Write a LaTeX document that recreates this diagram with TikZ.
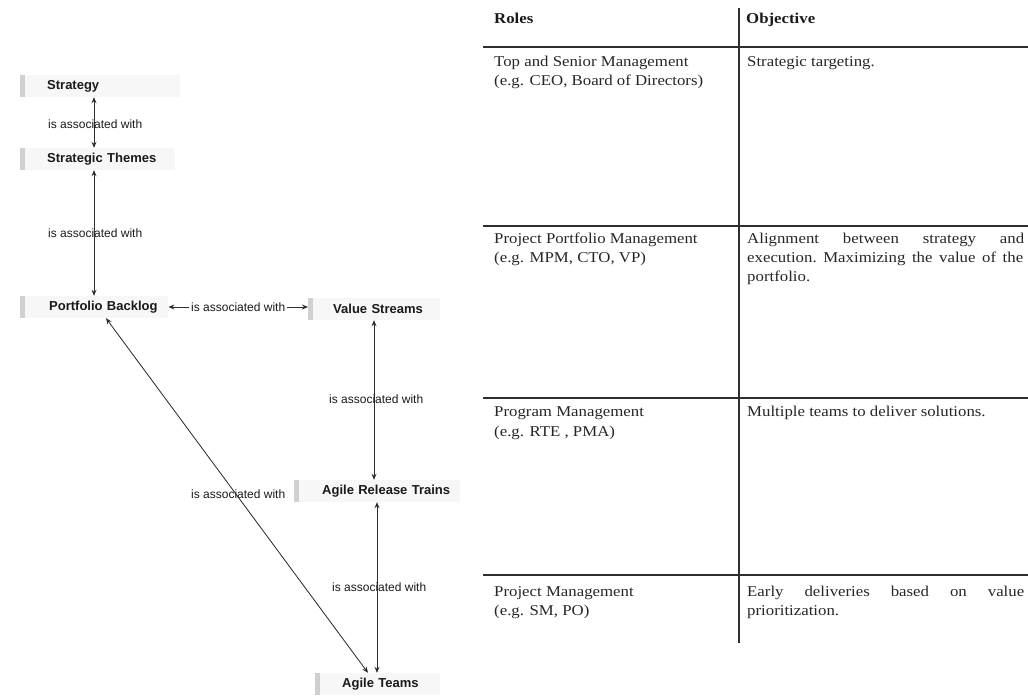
\documentclass[tikz,border=0pt]{standalone}
\usepackage{fontspec}
\setmainfont{Liberation Serif}
\newfontfamily\tabfont[FakeStretch=1.12]{Liberation Serif}
\newfontfamily\diafont{Liberation Sans}
\usetikzlibrary{arrows.meta}
\definecolor{ink}{HTML}{1A1A1A}
\definecolor{tabink}{HTML}{262626}
\definecolor{rulec}{HTML}{2E2E2E}
\definecolor{barc}{HTML}{D0D0D0}
\definecolor{boxbg}{HTML}{F7F7F7}
\begin{document}
\begin{tikzpicture}[x=1pt,y=-1pt,
  ent/.style={fill=boxbg, anchor=west, minimum height=22pt, inner xsep=0pt, inner ysep=0pt,
    text width=#1, align=left, text=ink, font=\diafont\bfseries\fontsize{13}{15}\selectfont},
  lbl/.style={text=ink, inner sep=1pt, font=\diafont\fontsize{12}{14}\selectfont},
  dbl/.style={draw=rulec, line width=0.85pt, {Stealth[length=6pt,width=5pt]}-{Stealth[length=6pt,width=5pt]}},
  tt/.style={anchor=base west, inner sep=0pt, text=tabink, font=\tabfont\fontsize{15}{18}\selectfont},
  th/.style={tt, text=ink, font=\tabfont\bfseries\fontsize{15}{18}\selectfont},
  tline/.style={draw=rulec, line width=1.1pt}]
\useasboundingbox (0,0) rectangle (1028,700);

% ---------------- left diagram ----------------
\node[ent=160pt] (strat)  at (20,86)  {\hspace*{27pt}Strategy};
\node[ent=155pt] (themes) at (20,159) {\hspace*{27pt}Strategic Themes};
\node[ent=148pt] (pb)     at (20,307) {\hspace*{29pt}Portfolio Backlog};
\node[ent=132pt] (vs)     at (308,309){\hspace*{25pt}Value Streams};
\node[ent=166pt] (art)    at (294,491){\hspace*{28pt}Agile Release Trains};
\node[ent=125pt] (at)     at (315,684){\hspace*{27pt}Agile Teams};
\foreach \n in {strat,themes,pb,vs,art,at}
  \fill[barc] (\n.south west) rectangle ([xshift=5pt]\n.north west);

\draw[dbl] ([xshift=74pt]strat.south west) -- ([xshift=74pt]themes.north west);
\draw[dbl] ([xshift=74pt]themes.south west) -- ([xshift=74pt]pb.north west);
\draw[dbl] (pb.east) -- (pb.east -| vs.west)
  node[lbl, midway, fill=white, inner xsep=2pt] (l3) {is associated with};
\draw[dbl] ([xshift=66pt]vs.south west) -- ([xshift=80pt]art.north west);
\draw[dbl] ([xshift=83pt]art.south west) -- ([xshift=62pt]at.north west);
\draw[dbl] ([xshift=86pt]pb.south west) -- ([xshift=53pt]at.north west);

\node[lbl, anchor=west] (l1) at (47,124) {is associated with};
\node[lbl, anchor=west] (l2) at (47,233) {is associated with};
\node[lbl, anchor=west] (l4) at (328,399) {is associated with};
\node[lbl, anchor=west] (l5) at (331,587) {is associated with};
\node[lbl, anchor=west] (l6) at (190,494) {is associated with};

% ---------------- table ----------------
\draw[tline] (739,8) -- (739,643);
\draw[tline] (483,47) -- (1028,47);
\draw[tline] (483,226) -- (1028,226);
\draw[tline] (483,398) -- (1028,398);
\draw[tline] (483,575) -- (1028,575);

\node[th] (hr) at (494,24) {Roles};
\node[th] (ho) at (746,24) {Objective};

\node[tt] (r1a) at (494,67) {Top and Senior Management};
\node[tt] (r1b) at (494,86) {(e.g. CEO, Board of Directors)};
\node[tt] (o1a) at (747,67) {Strategic targeting.};

\node[tt] (r2a) at (494,244) {Project Portfolio Management};
\node[tt] (r2b) at (494,263) {(e.g. MPM, CTO, VP)};
\node[tt] (o2a) at (747,244) {\makebox[277pt][s]{Alignment\hfill between\hfill strategy\hfill and}};
\node[tt] (o2b) at (747,263) {\makebox[276pt][s]{execution.\hfill Maximizing\hfill the\hfill value\hfill of\hfill the}};
\node[tt] (o2c) at (747,282) {portfolio.};

\node[tt] (r3a) at (494,417) {Program Management};
\node[tt] (r3b) at (494,436) {(e.g. RTE , PMA)};
\node[tt] (o3a) at (747,417) {Multiple teams to deliver solutions.};

\node[tt] (r4a) at (494,596) {Project Management};
\node[tt] (r4b) at (494,615) {(e.g. SM, PO)};
\node[tt] (o4a) at (747,596) {\makebox[277pt][s]{Early\hfill deliveries\hfill based\hfill on\hfill value}};
\node[tt] (o4b) at (747,615) {prioritization.};
\end{tikzpicture}
\end{document}
